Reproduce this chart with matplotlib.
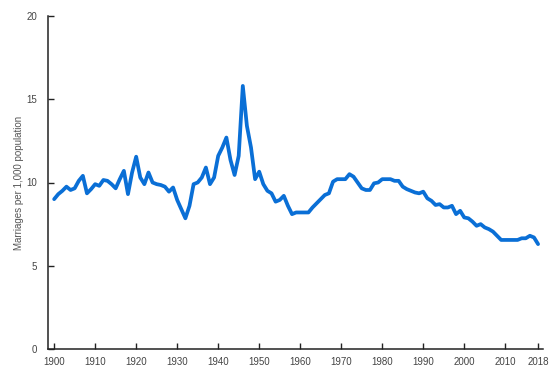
import numpy as np
import matplotlib
matplotlib.use("Agg")
import matplotlib.pyplot as plt

# marriage rate per 1,000 population
years = list(range(1900, 2019))
rate = [
    9.0, 9.3, 9.5, 9.75, 9.55, 9.65, 10.1, 10.4, 9.35, 9.6,      # 1900s
    9.9, 9.8, 10.15, 10.1, 9.9, 9.65, 10.2, 10.7, 9.3, 10.6,     # 1910s
    11.55, 10.3, 9.9, 10.6, 10.0, 9.9, 9.85, 9.75, 9.45, 9.7,    # 1920s
    8.95, 8.4, 7.85, 8.6, 9.9, 10.0, 10.3, 10.9, 9.9, 10.3,      # 1930s
    11.6, 12.1, 12.7, 11.35, 10.45, 11.6, 15.8, 13.4, 12.1, 10.2,  # 1940s
    10.65, 9.9, 9.5, 9.35, 8.85, 8.95, 9.2, 8.6, 8.1, 8.2,       # 1950s
    8.2, 8.2, 8.2, 8.5, 8.75, 9.0, 9.25, 9.35, 10.05, 10.2,      # 1960s
    10.2, 10.2, 10.5, 10.35, 10.0, 9.65, 9.55, 9.55, 9.95, 10.0,  # 1970s
    10.2, 10.2, 10.2, 10.1, 10.1, 9.75, 9.6, 9.5, 9.4, 9.35,     # 1980s
    9.45, 9.05, 8.9, 8.65, 8.7, 8.5, 8.5, 8.6, 8.1, 8.3,         # 1990s
    7.9, 7.85, 7.65, 7.4, 7.5, 7.3, 7.2, 7.05, 6.8, 6.55,        # 2000s
    6.55, 6.55, 6.55, 6.55, 6.65, 6.65, 6.8, 6.7, 6.3,           # 2010s
]
xticks = [1900, 1910, 1920, 1930, 1940, 1950, 1960, 1970, 1980, 1990, 2000, 2010, 2018]
yticks = [0, 5, 10, 15, 20]

plt.rcParams['font.family'] = ['Liberation Sans', 'DejaVu Sans']

fig = plt.figure(figsize=(5.6, 3.88), dpi=100)
ax = fig.add_axes([48 / 560, 39 / 388, 495 / 560, 333 / 388])

ax.plot(years, rate, color="#0a6fd6", lw=2.7, solid_joinstyle="round", solid_capstyle="round")

ax.set_xlim(1898.5, 2019.2)
ax.set_ylim(0, 20)
ax.set_xticks(xticks)
ax.set_yticks(yticks)
ax.spines["top"].set_visible(False)
ax.spines["right"].set_visible(False)
for s in ("left", "bottom"):
    ax.spines[s].set_linewidth(1.1)
    ax.spines[s].set_color("#222222")
ax.tick_params(direction="in", length=4, width=1.0, color="#222222",
               labelsize=7, labelcolor="#444444")
ax.tick_params(axis="x", pad=6)
ax.tick_params(axis="y", pad=8)

fig.text(19 / 560, (388 - 183) / 388, "Marriages per 1,000 population",
         rotation=90, ha="center", va="center", fontsize=7, color="#555555")

fig.savefig("out.png", dpi=100, facecolor="white")
